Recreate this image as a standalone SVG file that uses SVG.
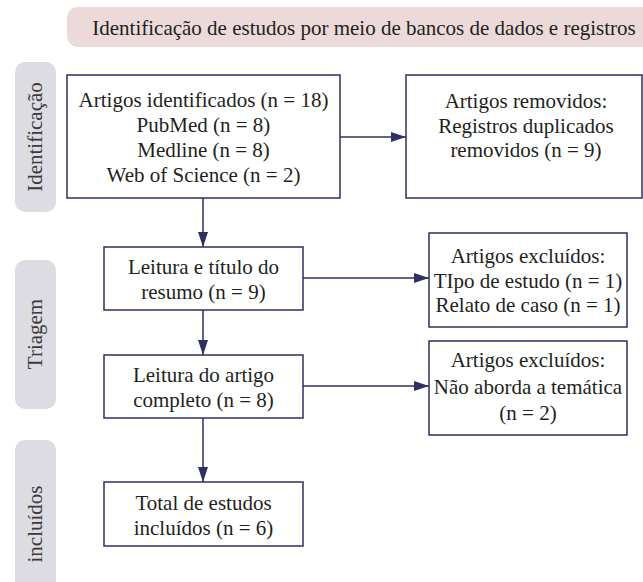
<svg xmlns="http://www.w3.org/2000/svg" width="643" height="582" viewBox="0 0 643 582" font-family="'Liberation Serif', 'DejaVu Serif', serif">
<style>
text{font-family:"Liberation Serif","DejaVu Serif",serif;font-size:21px;fill:#231f20;text-anchor:middle}
.box{fill:#fff;stroke:#2f2f63;stroke-width:1.5}
.side{fill:#dcdce2}
.head{fill:#ecdada}
.side-t{fill:#3a3a3a}
.conn{stroke:#2f2f63;stroke-width:1.5;fill:none}
</style>
<defs>
<marker id="ah" markerWidth="16" markerHeight="12" refX="15" refY="5" orient="auto" markerUnits="userSpaceOnUse">
<path d="M0,0 L15,5 L0,10 Z" fill="#2f2f63"/>
</marker>
</defs>
<g id="header">
<rect class="head" x="67" y="7" width="600" height="40" rx="11"/>
<text x="364" y="35">Identificação de estudos por meio de bancos de dados e registros</text>
</g>
<g id="lane-identificacao">
<rect class="side" x="15" y="62" width="41" height="150" rx="10"/>
<text class="side-t" x="42" y="137" transform="rotate(-90 42 137)">Identificação</text>
</g>
<g id="lane-triagem">
<rect class="side" x="15" y="260" width="41" height="149" rx="10"/>
<text class="side-t" x="42" y="334" transform="rotate(-90 42 334)">Triagem</text>
</g>
<g id="lane-incluidos">
<rect class="side" x="15" y="440" width="41" height="170" rx="10"/>
<text class="side-t" x="42" y="524" transform="rotate(-90 42 524)">incluídos</text>
</g>
<g id="connectors">
<line class="conn" x1="340" y1="137" x2="406" y2="137" marker-end="url(#ah)"/>
<line class="conn" x1="203" y1="198" x2="203" y2="247" marker-end="url(#ah)"/>
<line class="conn" x1="303" y1="278" x2="429" y2="278" marker-end="url(#ah)"/>
<line class="conn" x1="203" y1="310" x2="203" y2="355" marker-end="url(#ah)"/>
<line class="conn" x1="303" y1="386" x2="429" y2="386" marker-end="url(#ah)"/>
<line class="conn" x1="203" y1="418" x2="203" y2="482" marker-end="url(#ah)"/>
</g>
<g id="n-identificados">
<rect class="box" x="67" y="75" width="273" height="123"/>
<text x="203.5" y="107">Artigos identificados (n = 18)</text>
<text x="203.5" y="132">PubMed (n = 8)</text>
<text x="203.5" y="157">Medline (n = 8)</text>
<text x="203.5" y="182">Web of Science (n = 2)</text>
</g>
<g id="n-removidos">
<rect class="box" x="406" y="75" width="236" height="123"/>
<text x="526" y="108">Artigos removidos:</text>
<text x="526" y="133">Registros duplicados</text>
<text x="526" y="157">removidos (n = 9)</text>
</g>
<g id="n-resumo">
<rect class="box" x="104" y="247" width="199" height="63"/>
<text x="203.5" y="274">Leitura e título do</text>
<text x="203.5" y="299">resumo (n = 9)</text>
</g>
<g id="n-excluidos1">
<rect class="box" x="429" y="233" width="198" height="94"/>
<text x="528" y="263">Artigos excluídos:</text>
<text x="528" y="288">TIpo de estudo (n = 1)</text>
<text x="528" y="312">Relato de caso (n = 1)</text>
</g>
<g id="n-completo">
<rect class="box" x="104" y="355" width="199" height="63"/>
<text x="203.5" y="382">Leitura do artigo</text>
<text x="203.5" y="407">completo (n = 8)</text>
</g>
<g id="n-excluidos2">
<rect class="box" x="429" y="341" width="198" height="94"/>
<text x="528" y="367">Artigos excluídos:</text>
<text x="528" y="394">Não aborda a temática</text>
<text x="528" y="420">(n = 2)</text>
</g>
<g id="n-incluidos">
<rect class="box" x="104" y="482" width="199" height="64"/>
<text x="203.5" y="510">Total de estudos</text>
<text x="203.5" y="535">incluídos (n = 6)</text>
</g>
</svg>
